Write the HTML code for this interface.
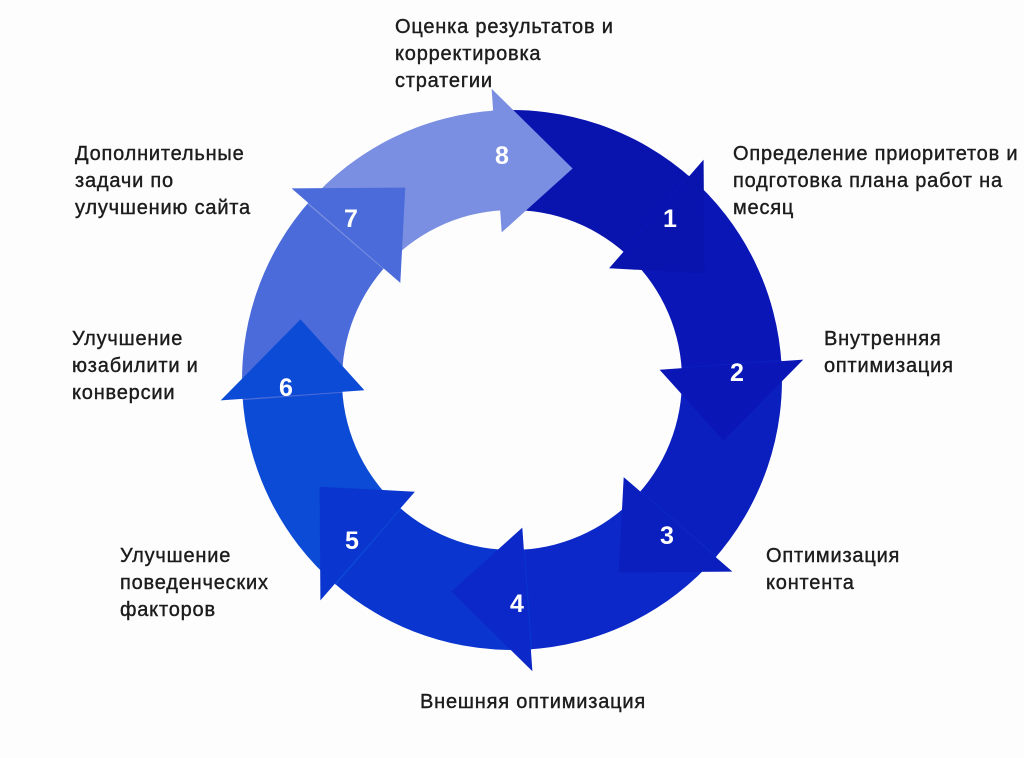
<!DOCTYPE html>
<html><head><meta charset="utf-8"><style>
html,body{margin:0;padding:0;background:#fdfdfd;}
body{width:1024px;height:758px;position:relative;overflow:hidden;font-family:"Liberation Sans",sans-serif;}
.t{position:absolute;font-size:20px;line-height:27px;color:#1c1c1c;letter-spacing:0.8px;-webkit-text-stroke:0.4px #1c1c1c;white-space:nowrap;}
svg{position:absolute;left:0;top:0;}
</style></head><body>
<svg id="s" width="1024" height="758" viewBox="0 0 1024 758"></svg>
<div class="t" style="left:395px;top:14px">Оценка результатов и<br>корректировка<br>стратегии</div>
<div class="t" style="left:733px;top:141px">Определение приоритетов и<br>подготовка плана работ на<br>месяц</div>
<div class="t" style="left:75px;top:141px">Дополнительные<br>задачи по<br>улучшению сайта</div>
<div class="t" style="left:824px;top:326px">Внутренняя<br>оптимизация</div>
<div class="t" style="left:72px;top:326px">Улучшение<br>юзабилити и<br>конверсии</div>
<div class="t" style="left:766px;top:543px">Оптимизация<br>контента</div>
<div class="t" style="left:120px;top:543px">Улучшение<br>поведенческих<br>факторов</div>
<div class="t" style="left:420px;top:689px">Внешняя оптимизация</div>
<script>
var cx=512,cy=380,R=270,r=170;
function P(a,rad){var t=a*Math.PI/180;return (cx+rad*Math.sin(t)).toFixed(1)+","+(cy-rad*Math.cos(t)).toFixed(1);}
var cols={1:"#0913ae",2:"#0a17b6",3:"#0b1ebe",4:"#0c28c8",5:"#0a36cf",6:"#0c4bd6",7:"#4a6bd9",8:"#7a8fe1"};
var tips={8:16,1:61,2:106,3:151,4:196,5:241,6:286,7:331};
var nums={8:[502,155],1:[670,218],2:[737,372],3:[667,535],4:[517,603],5:[352,540],6:[286,387],7:[351,218]};
var bodies="",heads="",labels="";
for(var i=1;i<=8;i++){
 var t=tips[i],hb=t-20,tail=t-65.3;
 bodies+='<path fill="'+cols[i]+'" d="M'+P(tail,R)+' A'+R+','+R+' 0 0 1 '+P(hb+1,R)+' L'+P(hb+1,r)+' A'+r+','+r+' 0 0 0 '+P(tail,r)+' Z"/>';
 heads+='<path fill="'+cols[i]+'" d="M'+P(hb,R+22)+' L'+P(t,220)+' L'+P(hb,r-22)+' Z"/>';
 labels+='<text x="'+nums[i][0]+'" y="'+(nums[i][1]+9)+'" text-anchor="middle" font-family="Liberation Sans,sans-serif" font-weight="bold" font-size="25" fill="#fff">'+i+'</text>';
}
document.getElementById("s").innerHTML=bodies+heads+labels;
</script>
</body></html>
